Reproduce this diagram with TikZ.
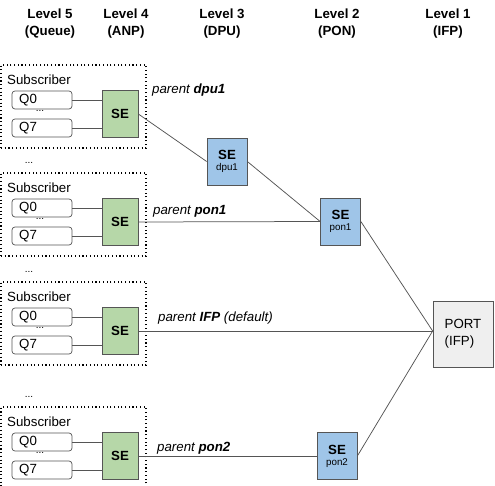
\documentclass[tikz,border=0pt]{standalone}
\usepackage{fontspec}
\setmainfont{Liberation Sans}
\definecolor{segreen}{HTML}{B6D7A8}
\definecolor{seblue}{HTML}{9FC5E8}
\definecolor{portgray}{HTML}{EFEFEF}
\definecolor{edgegray}{HTML}{555555}
\tikzset{
  txt/.style={font=\fontsize{13.3}{16}\selectfont, inner sep=0pt},
  hdr/.style={font=\fontsize{13.3}{17}\selectfont\bfseries, align=center, inner sep=0pt},
  grpbox/.style={draw=black, line width=1.1pt, dash pattern=on 1.1pt off 2.6pt, minimum width=145pt, minimum height=83pt, inner sep=0pt},
  qbox/.style={draw=edgegray, rounded corners=3pt, fill=white, minimum width=60pt, minimum height=18pt, inner sep=0pt, line width=0.7pt},
  segr/.style={draw=edgegray, fill=segreen, minimum width=36pt, minimum height=47pt, inner sep=0pt, line width=0.7pt, font=\fontsize{13.3}{16}\selectfont\bfseries},
  sebl/.style={draw=edgegray, fill=seblue, minimum width=40pt, minimum height=47pt, inner sep=0pt, line width=0.7pt, align=center},
  conn/.style={draw=edgegray, line width=0.75pt},
  lbl/.style={font=\fontsize{13.3}{16}\selectfont\itshape, anchor=west, inner sep=0pt},
}
\begin{document}
\begin{tikzpicture}[x=1pt,y=-1pt]
\useasboundingbox (0,0) rectangle (495,486);
% headers
\node[hdr] (h5) at (50,23.5) {Level 5\\(Queue)};
\node[hdr] (h4) at (126,23.5) {Level 4\\(ANP)};
\node[hdr] (h3) at (222,23.5) {Level 3\\(DPU)};
\node[hdr] (h2) at (337,23.5) {Level 2\\(PON)};
\node[hdr] (h1) at (448,23.5) {Level 1\\(IFP)};
% groups
\foreach \i/\T in {1/65,2/173,3/282,4/407}{
  \node[grpbox] (grp\i) at (73.5,\T+41.5) {};
  \node[txt, anchor=west] (sub\i) at (7,\T+15) {Subscriber};
  \node[qbox] (qa\i) at (42,\T+35) {};
  \node[txt, anchor=west] (qat\i) at (19,\T+35) {Q0};
  \node[qbox] (qb\i) at (42,\T+63) {};
  \node[txt, anchor=west] (qbt\i) at (19,\T+63) {Q7};
  \node[txt, font=\fontsize{10}{12}\selectfont] (dd\i) at (40,\T+46) {...};
  \node[segr] (se\i) at (120,\T+49) {SE};
  \draw[conn] (qa\i.east) -- (qa\i.east -| se\i.west);
  \draw[conn] (qb\i.east) -- (qb\i.east -| se\i.west);
}
\foreach \i/\T in {2/173,3/282,4/407}{
  \node[txt, font=\fontsize{10}{12}\selectfont] (dots\i) at (29,\T-10) {...};
}
% upper level SEs
\node[sebl] (dpu1) at (227,161.5) {{\fontsize{13.3}{16}\selectfont\bfseries SE}\\[-1pt]{\fontsize{9.8}{11}\selectfont dpu1}};
\node[sebl] (pon1) at (340.5,221.5) {{\fontsize{13.3}{16}\selectfont\bfseries SE}\\[-1pt]{\fontsize{9.8}{11}\selectfont pon1}};
\node[sebl] (pon2) at (337,456) {{\fontsize{13.3}{16}\selectfont\bfseries SE}\\[-1pt]{\fontsize{9.8}{11}\selectfont pon2}};
\node[draw=edgegray, fill=portgray, minimum width=60pt, minimum height=66pt, inner sep=0pt, line width=0.7pt, align=left, font=\fontsize{13.3}{17}\selectfont] (port) at (463,334) {PORT\\(IFP)};
\coordinate (pin) at ([yshift=3pt]port.west);
% connectors
\draw[conn] (se1.east) -- (dpu1.west);
\draw[conn] (dpu1.east) -- (pon1.west);
\draw[conn] (se2.east) -- (pon1.west);
\draw[conn] (pon1.east) -- (pin);
\draw[conn] (se3.east) -- (pin);
\draw[conn] (se4.east) -- (pon2.west);
\draw[conn] (pon2.east) -- (pin);
% labels
\node[lbl] (l1) at (152,90) {parent \textbf{dpu1}};
\node[lbl] (l2) at (153,211) {parent \textbf{pon1}};
\node[lbl] (l3) at (158,318) {parent \textbf{IFP} (default)};
\node[lbl] (l4) at (157,448) {parent \textbf{pon2}};
\end{tikzpicture}
\end{document}
